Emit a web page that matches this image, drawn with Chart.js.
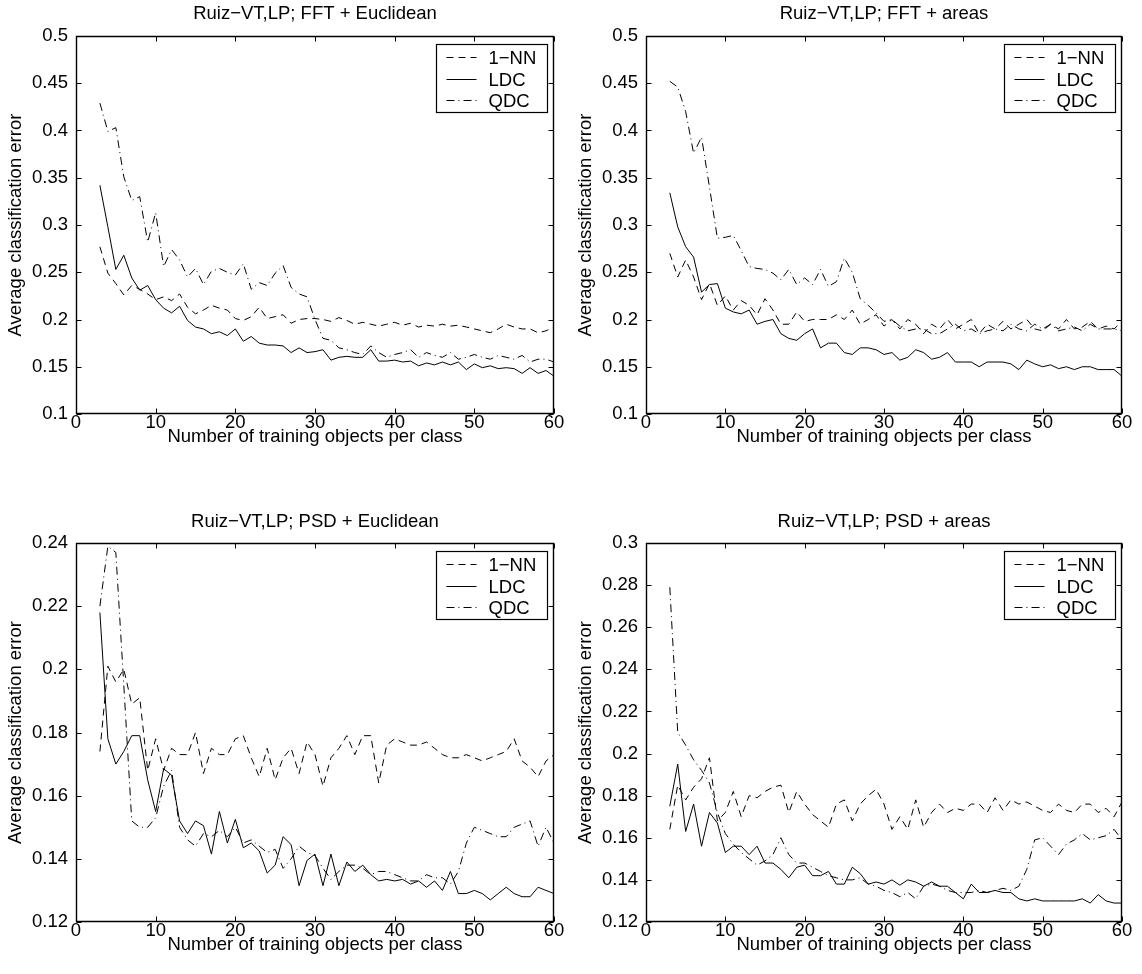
<!DOCTYPE html>
<html>
<head>
<meta charset="utf-8">
<title>Ruiz-VT,LP classification error</title>
<script src="https://cdn.jsdelivr.net/npm/chart.js@4.4.1/dist/chart.umd.min.js"></script>
<style>
  body { margin: 0; background: #fff; }
  #wrap { position: relative; width: 1142px; height: 974px; }
  canvas { position: absolute; }
</style>
</head>
<body>
<div id="wrap">
  <canvas id="fftEuc" width="570" height="487" style="left:0;top:0"></canvas>
  <canvas id="fftArea" width="572" height="487" style="left:570px;top:0"></canvas>
  <canvas id="psdEuc" width="570" height="487" style="left:0;top:487px"></canvas>
  <canvas id="psdArea" width="572" height="487" style="left:570px;top:487px"></canvas>
</div>
<script>
/* ===================== DATA ===================== */
const trainSizes = [3,4,5,6,7,8,9,10,11,12,13,14,15,16,17,18,19,20,21,22,23,24,25,26,27,28,29,30,
  31,32,33,34,35,36,37,38,39,40,41,42,43,44,45,46,47,48,49,50,51,52,53,54,55,56,57,58,59,60];
const xTicks = [0, 10, 20, 30, 40, 50, 60];
const seriesNames = ["1\u2212NN", "LDC", "QDC"];

// FFT + Euclidean
const fftEucNN = [0.277,0.249,0.238,0.226,0.236,0.232,0.227,0.221,0.224,0.220,
  0.227,0.213,0.206,0.210,0.215,0.212,0.210,0.201,0.199,0.203,
  0.213,0.201,0.203,0.205,0.196,0.200,0.201,0.201,0.200,0.198,
  0.202,0.199,0.195,0.197,0.195,0.193,0.195,0.197,0.194,0.196,
  0.192,0.194,0.193,0.195,0.193,0.194,0.192,0.190,0.188,0.186,
  0.190,0.195,0.192,0.190,0.190,0.186,0.188,0.192];
const fftEucLDC = [0.342,0.298,0.253,0.268,0.244,0.231,0.236,0.221,0.212,0.207,
  0.214,0.199,0.192,0.190,0.185,0.187,0.183,0.190,0.177,0.182,
  0.175,0.173,0.173,0.172,0.165,0.170,0.165,0.166,0.168,0.157,
  0.160,0.161,0.160,0.160,0.168,0.156,0.156,0.157,0.155,0.156,
  0.151,0.154,0.152,0.155,0.152,0.155,0.147,0.153,0.149,0.151,
  0.148,0.149,0.148,0.143,0.149,0.143,0.146,0.140];
const fftEucQDC = [0.429,0.399,0.403,0.351,0.326,0.330,0.282,0.313,0.256,0.274,
  0.263,0.245,0.254,0.237,0.251,0.254,0.250,0.247,0.259,0.232,
  0.239,0.236,0.249,0.257,0.234,0.227,0.224,0.200,0.180,0.178,
  0.170,0.168,0.165,0.163,0.172,0.165,0.160,0.163,0.165,0.168,
  0.160,0.165,0.162,0.160,0.165,0.158,0.160,0.163,0.160,0.158,
  0.162,0.160,0.158,0.162,0.155,0.158,0.158,0.155];

// FFT + areas
const fftAreaNN = [0.270,0.245,0.263,0.245,0.221,0.238,0.215,0.225,0.210,0.220,
  0.215,0.205,0.222,0.210,0.195,0.195,0.208,0.198,0.200,0.200,
  0.200,0.205,0.200,0.210,0.195,0.200,0.205,0.193,0.200,0.190,
  0.200,0.195,0.185,0.195,0.190,0.200,0.190,0.195,0.200,0.185,
  0.195,0.190,0.198,0.190,0.195,0.200,0.190,0.188,0.195,0.190,
  0.200,0.190,0.192,0.198,0.190,0.193,0.190,0.198];
const fftAreaLDC = [0.334,0.298,0.277,0.266,0.229,0.237,0.238,0.212,0.208,0.206,
  0.210,0.195,0.198,0.200,0.185,0.180,0.178,0.185,0.190,0.170,
  0.175,0.175,0.165,0.163,0.170,0.170,0.168,0.163,0.165,0.157,
  0.160,0.168,0.165,0.158,0.160,0.165,0.155,0.155,0.155,0.150,
  0.155,0.155,0.155,0.153,0.147,0.157,0.153,0.150,0.152,0.148,
  0.150,0.147,0.150,0.150,0.147,0.147,0.147,0.140];
const fftAreaQDC = [0.452,0.446,0.420,0.376,0.393,0.340,0.286,0.287,0.289,0.273,
  0.256,0.254,0.253,0.249,0.242,0.253,0.237,0.244,0.237,0.253,
  0.235,0.240,0.265,0.250,0.222,0.215,0.207,0.198,0.200,0.193,
  0.188,0.190,0.190,0.185,0.185,0.190,0.195,0.188,0.190,0.185,
  0.188,0.190,0.188,0.195,0.190,0.188,0.195,0.190,0.195,0.188,
  0.190,0.192,0.188,0.195,0.190,0.190,0.190,0.188];

// PSD + Euclidean
const psdEucNN = [0.174,0.201,0.196,0.200,0.189,0.191,0.168,0.178,0.168,0.175,
  0.173,0.173,0.180,0.167,0.175,0.173,0.173,0.178,0.179,0.172,
  0.166,0.175,0.165,0.172,0.175,0.167,0.177,0.173,0.163,0.172,
  0.175,0.179,0.173,0.179,0.179,0.164,0.176,0.178,0.177,0.176,
  0.176,0.177,0.175,0.173,0.172,0.172,0.173,0.172,0.171,0.172,
  0.173,0.174,0.178,0.171,0.169,0.166,0.171,0.173];
const psdEucLDC = [0.218,0.178,0.170,0.174,0.179,0.179,0.165,0.155,0.1685,0.1665,
  0.152,0.148,0.152,0.1505,0.1415,0.155,0.145,0.1525,0.1435,0.145,
  0.1425,0.1355,0.138,0.147,0.1445,0.1315,0.1395,0.1415,0.1315,0.1415,
  0.1315,0.139,0.136,0.138,0.135,0.133,0.1335,0.133,0.1335,0.132,
  0.133,0.131,0.133,0.130,0.136,0.129,0.129,0.130,0.129,0.127,
  0.129,0.131,0.129,0.128,0.128,0.131,0.130,0.129];
const psdEucQDC = [0.220,0.239,0.237,0.195,0.152,0.150,0.150,0.153,0.163,0.168,
  0.150,0.146,0.144,0.148,0.147,0.149,0.147,0.150,0.145,0.146,
  0.144,0.142,0.143,0.137,0.140,0.144,0.142,0.141,0.137,0.1335,
  0.136,0.138,0.138,0.137,0.135,0.136,0.136,0.135,0.134,0.133,
  0.133,0.135,0.134,0.134,0.132,0.136,0.145,0.150,0.149,0.148,
  0.147,0.147,0.150,0.151,0.152,0.144,0.150,0.145];

// PSD + areas
const psdAreaNN = [0.164,0.185,0.178,0.184,0.188,0.198,0.168,0.172,0.182,0.170,
  0.180,0.179,0.182,0.184,0.185,0.172,0.182,0.176,0.171,0.168,
  0.165,0.176,0.178,0.168,0.176,0.180,0.183,0.176,0.164,0.170,
  0.164,0.178,0.165,0.172,0.176,0.172,0.174,0.173,0.176,0.176,
  0.172,0.179,0.173,0.178,0.176,0.177,0.175,0.173,0.172,0.176,
  0.173,0.172,0.176,0.176,0.172,0.174,0.170,0.177];
const psdAreaLDC = [0.175,0.195,0.163,0.176,0.156,0.172,0.167,0.153,0.156,0.156,
  0.152,0.156,0.148,0.148,0.145,0.141,0.146,0.147,0.142,0.142,
  0.144,0.138,0.138,0.146,0.143,0.138,0.139,0.138,0.140,0.1375,
  0.140,0.139,0.137,0.139,0.137,0.137,0.134,0.131,0.138,0.134,
  0.134,0.135,0.134,0.134,0.131,0.130,0.131,0.130,0.130,0.130,
  0.130,0.130,0.131,0.129,0.133,0.130,0.129,0.129];
const psdAreaQDC = [0.279,0.210,0.204,0.197,0.192,0.186,0.172,0.162,0.157,0.153,
  0.150,0.147,0.149,0.152,0.160,0.152,0.148,0.148,0.146,0.144,
  0.142,0.141,0.140,0.140,0.141,0.138,0.137,0.135,0.134,0.132,
  0.134,0.131,0.137,0.138,0.137,0.135,0.134,0.134,0.134,0.135,
  0.134,0.135,0.136,0.135,0.137,0.145,0.159,0.160,0.156,0.152,
  0.157,0.159,0.162,0.159,0.160,0.161,0.164,0.159];

const yTicksFFT = [0.1, 0.15, 0.2, 0.25, 0.3, 0.35, 0.4, 0.45, 0.5];
const yTicksPsdEuc = [0.12, 0.14, 0.16, 0.18, 0.2, 0.22, 0.24];
const yTicksPsdArea = [0.12, 0.14, 0.16, 0.18, 0.2, 0.22, 0.24, 0.26, 0.28, 0.3];

/* ===================== STYLE ===================== */
const FONT = "'Liberation Sans', Arial, Helvetica, sans-serif";
const FS = 18.5;
const dashes = [[7, 5], [], [8, 4, 1, 4]];

/* ========== MATLAB-like box with inward ticks ========== */
const boxPlugin = {
  id: "matlabBox",
  afterDatasetsDraw(chart) {
    const { ctx, chartArea: a, scales: { x, y } } = chart;
    const L = Math.round(a.left) + 0.5, R = Math.round(a.right) - 0.5;
    const T = Math.round(a.top) + 0.5, B = Math.round(a.bottom) - 0.5;
    ctx.save();
    ctx.strokeStyle = "#000";
    ctx.lineWidth = 1.4;
    ctx.beginPath();
    ctx.rect(L, T, R - L, B - T);
    ctx.stroke();
    ctx.lineWidth = 1;
    ctx.beginPath();
    x.ticks.forEach(t => {
      const px = Math.round(x.getPixelForValue(t.value)) + 0.5;
      ctx.moveTo(px, B); ctx.lineTo(px, B - 5);
      ctx.moveTo(px, T); ctx.lineTo(px, T + 5);
    });
    y.ticks.forEach(t => {
      const py = Math.round(y.getPixelForValue(t.value)) + 0.5;
      ctx.moveTo(L, py); ctx.lineTo(L + 5, py);
      ctx.moveTo(R, py); ctx.lineTo(R - 5, py);
    });
    ctx.stroke();
    ctx.restore();
  }
};

/* ========== Legend box inside the axes (top right) ========== */
const innerLegend = {
  id: "innerLegend",
  afterDraw(chart) {
    const { ctx, chartArea: a } = chart;
    const w = 111, h = 68;
    const left = Math.round(a.right) - 7 - w + 0.5, top = Math.round(a.top) + 8 + 0.5;
    ctx.save();
    ctx.fillStyle = "#fff";
    ctx.fillRect(left, top, w, h);
    ctx.strokeStyle = "#000";
    ctx.lineWidth = 1.2;
    ctx.setLineDash([]);
    ctx.strokeRect(left, top, w, h);
    ctx.lineWidth = 1;
    ctx.font = FS + "px " + FONT;
    ctx.textBaseline = "middle";
    ctx.fillStyle = "#000";
    chart.data.datasets.forEach((ds, i) => {
      const cy = Math.round(top + 12.5 + i * 21.5) + 0.5;
      ctx.setLineDash(ds.borderDash || []);
      ctx.beginPath();
      ctx.moveTo(left + 10, cy);
      ctx.lineTo(left + 40, cy);
      ctx.stroke();
      ctx.fillText(ds.label, left + 52, cy + 1);
    });
    ctx.restore();
  }
};

/* ========== Build one panel ========== */
function makePanel(id, title, series, yMin, yMax, yTicks, topRow) {
  const ctx = document.getElementById(id).getContext("2d");
  new Chart(ctx, {
    type: "line",
    data: {
      datasets: series.map((vals, i) => ({
        label: seriesNames[i],
        data: trainSizes.map((n, j) => ({ x: n, y: vals[j] })),
        borderColor: "#000",
        borderWidth: 1,
        borderDash: dashes[i],
        pointRadius: 0,
        tension: 0,
        fill: false
      }))
    },
    options: {
      responsive: false,
      animation: false,
      events: [],
      layout: { padding: { left: 0, right: id.endsWith("Area") ? 20 : 16, top: 0, bottom: 0 } },
      plugins: {
        legend: { display: false },
        tooltip: { enabled: false },
        title: {
          display: true,
          text: title,
          fullSize: false,
          color: "#000",
          font: { family: FONT, size: FS, weight: "normal", lineHeight: 1.2 },
          padding: topRow ? { top: 2.8, bottom: 11 } : { top: 23.5, bottom: 10.3 }
        }
      },
      scales: {
        x: {
          type: "linear",
          min: 0, max: 60,
          afterBuildTicks: s => { s.ticks = xTicks.map(v => ({ value: v })); },
          afterFit: s => { s.height = topRow ? 73 : 52; },
          grid: { display: false, drawTicks: false },
          border: { display: false },
          ticks: { color: "#000", padding: 0, maxRotation: 0, font: { family: FONT, size: FS, lineHeight: 1 } },
          title: {
            display: true,
            text: "Number of training objects per class",
            color: "#000",
            font: { family: FONT, size: FS, lineHeight: 1.2 },
            padding: { top: 0, bottom: topRow ? 39 : 18 }
          }
        },
        y: {
          type: "linear",
          min: yMin, max: yMax,
          afterBuildTicks: s => { s.ticks = yTicks.map(v => ({ value: v })); },
          afterFit: s => { s.width = 76; },
          grid: { display: false, drawTicks: false },
          border: { display: false },
          ticks: {
            color: "#000", padding: 8,
            font: { family: FONT, size: FS },
            callback: v => String(+v.toFixed(2))
          },
          title: {
            display: true,
            text: "Average classification error",
            color: "#000",
            font: { family: FONT, size: FS, lineHeight: 1.2 },
            padding: { top: 5, bottom: 0 }
          }
        }
      }
    },
    plugins: [boxPlugin, innerLegend]
  });
}

makePanel("fftEuc", "Ruiz\u2212VT,LP; FFT + Euclidean", [fftEucNN, fftEucLDC, fftEucQDC], 0.1, 0.5, yTicksFFT, true);
makePanel("fftArea", "Ruiz\u2212VT,LP; FFT + areas", [fftAreaNN, fftAreaLDC, fftAreaQDC], 0.1, 0.5, yTicksFFT, true);
makePanel("psdEuc", "Ruiz\u2212VT,LP; PSD + Euclidean", [psdEucNN, psdEucLDC, psdEucQDC], 0.12, 0.24, yTicksPsdEuc, false);
makePanel("psdArea", "Ruiz\u2212VT,LP; PSD + areas", [psdAreaNN, psdAreaLDC, psdAreaQDC], 0.12, 0.3, yTicksPsdArea, false);
</script>
</body>
</html>
